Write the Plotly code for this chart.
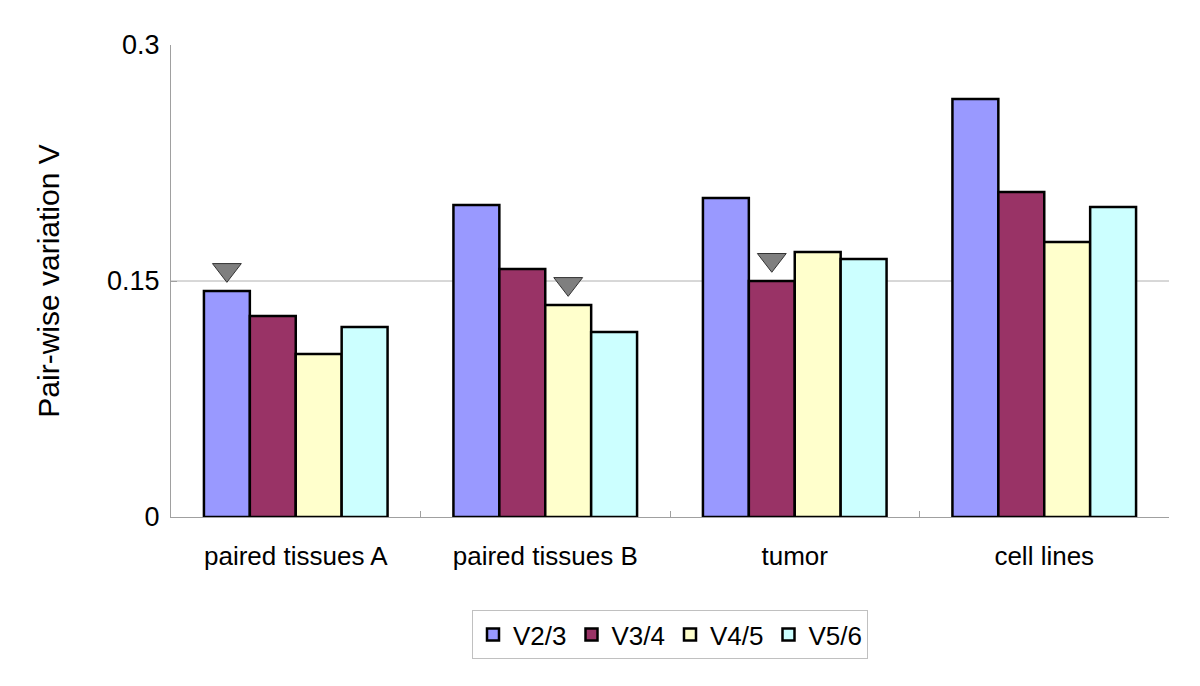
import plotly.graph_objects as go

categories = ["paired tissues A", "paired tissues B", "tumor", "cell lines"]
series_names = ["V2/3", "V3/4", "V4/5", "V5/6"]
v23 = [0.1436, 0.1983, 0.2028, 0.2657]
v34 = [0.1278, 0.1576, 0.1500, 0.2066]
v45 = [0.1036, 0.1347, 0.1684, 0.1748]
v56 = [0.1208, 0.1176, 0.1640, 0.1970]
# which bar of each category carries the grey triangle marker (series index)
marked_series = [0, 2, 1, None]
y_ticks = [0, 0.15, 0.3]
y_tick_text = ["0", "0.15", "0.3"]

colors = ["#9999FF", "#993366", "#FFFFCC", "#CCFFFF"]
values = [v23, v34, v45, v56]
FONT = "Liberation Sans, Arial, sans-serif"
MARK_LIFT = 0.0135

fig = go.Figure()
for i, (name, vals) in enumerate(zip(series_names, values)):
    fig.add_trace(go.Bar(
        x=categories, y=vals, name=name, offsetgroup=str(i),
        marker=dict(color=colors[i], line=dict(color="black", width=2.5)),
    ))

for i, vals in enumerate(values):
    ys = [vals[k] + MARK_LIFT if marked_series[k] == i else None for k in range(len(categories))]
    fig.add_trace(go.Scatter(
        x=categories, y=ys, mode="markers", offsetgroup=str(i), showlegend=False,
        marker=dict(symbol="triangle-down", size=25, color="#7f7f7f",
                    line=dict(color="#333333", width=1)),
        hoverinfo="skip",
    ))

fig.add_shape(type="line", xref="paper", yref="y", x0=0, x1=1, y0=y_ticks[1], y1=y_ticks[1],
              line=dict(color="#b0b0b0", width=1), layer="below")

fig.update_layout(
    width=1200, height=686,
    margin=dict(l=163, r=39, t=37, b=177, autoexpand=False),
    plot_bgcolor="white", paper_bgcolor="white",
    barmode="group", bargap=0.264, bargroupgap=0,
    scattermode="group", scattergap=0.264,
    font=dict(family=FONT, color="black"),
    showlegend=True,
    legend=dict(orientation="h", x=0.5, xanchor="center", y=-0.197, yanchor="top",
                bordercolor="#c0c0c0", borderwidth=1, bgcolor="white",
                font=dict(size=26, family=FONT), itemwidth=30, traceorder="normal"),
    xaxis=dict(
        type="category", showline=True, linecolor="#a0a0a0", linewidth=1,
        ticks="inside", tickson="boundaries", ticklen=6, tickcolor="#a0a0a0",
        tickfont=dict(size=26, family=FONT), showgrid=False, zeroline=False,
        ticklabelstandoff=16, automargin=False,
    ),
    yaxis=dict(
        range=[0, 0.3], tickvals=y_ticks, ticktext=y_tick_text,
        showline=True, linecolor="#a0a0a0", linewidth=1,
        ticks="inside", ticklen=6, tickcolor="#a0a0a0",
        tickfont=dict(size=27, family=FONT), showgrid=False, zeroline=False,
        title=dict(text="Pair-wise variation V", font=dict(size=30, family=FONT), standoff=38),
        ticklabelstandoff=5, automargin=False,
    ),
)

fig.write_html("out.html")
